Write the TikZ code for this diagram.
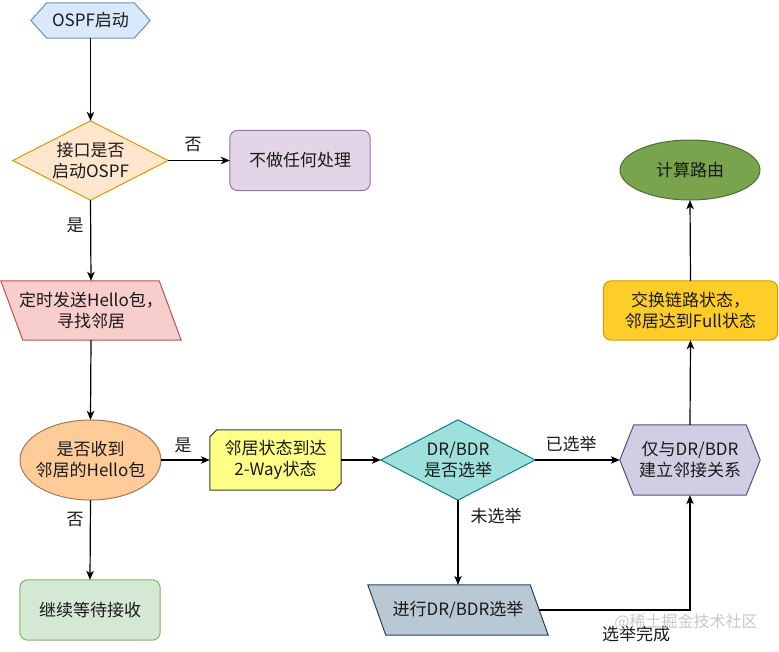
\documentclass[tikz,border=0pt]{standalone}
\usepackage{fontspec}
\newfontfamily\cjk{Noto Sans CJK SC}
\usetikzlibrary{arrows.meta,backgrounds,calc}
\definecolor{txt}{HTML}{1A1A1A}
\definecolor{startF}{HTML}{DAE8FC}\definecolor{startD}{HTML}{6C8EBF}
\definecolor{qF}{HTML}{FFE6CC}\definecolor{qD}{HTML}{D79B00}
\definecolor{noF}{HTML}{E1D5E7}\definecolor{noD}{HTML}{9673A6}
\definecolor{sendF}{HTML}{F8CECC}\definecolor{sendD}{HTML}{B85450}
\definecolor{recvF}{HTML}{FFCC99}\definecolor{recvD}{HTML}{A07A55}
\definecolor{wayF}{HTML}{FFFF88}\definecolor{wayD}{HTML}{36393D}
\definecolor{drF}{HTML}{9EE0DC}\definecolor{drD}{HTML}{0E8088}
\definecolor{adjF}{HTML}{D0CEE2}\definecolor{adjD}{HTML}{56517E}
\definecolor{elF}{HTML}{BAC8D3}\definecolor{elD}{HTML}{23445D}
\definecolor{fullF}{HTML}{FFCD28}\definecolor{fullD}{HTML}{D79B00}
\definecolor{routeF}{HTML}{7AA34E}\definecolor{routeD}{HTML}{4F6F2F}
\definecolor{waitF}{HTML}{D5E8D4}\definecolor{waitD}{HTML}{82B366}
\begin{document}
\begin{tikzpicture}[x=1pt,y=-1pt,
  every node/.style={font=\cjk\fontsize{17}{21}\selectfont, text=txt},
  shp/.style 2 args={minimum width=#1, minimum height=#2, inner sep=0pt, align=center},
  outl/.style={line width=1pt},
  arr/.style={line width=1.2pt, -{Stealth[length=9pt,width=7.5pt,inset=2.5pt]}},
  lbl/.style={inner sep=0pt}]
\useasboundingbox (0,0) rectangle (779,651);

% nodes
\node[shp={119pt}{35pt}] (start) at (90.5,20.5) {OSPF启动};
\node[shp={155pt}{79pt}] (q1) at (90.5,160.5) {接口是否\\启动OSPF};
\node[shp={140pt}{60pt}] (no1) at (300,160.5) {不做任何处理};
\node[shp={180pt}{59pt}] (send) at (91,310.5) {定时发送Hello包，\\寻找邻居};
\node[shp={141pt}{80pt}] (recv) at (90.5,460) {是否收到\\邻居的Hello包};
\node[shp={131pt}{60pt}] (way) at (275.5,460) {邻居状态到达\\2-Way状态};
\node[shp={154pt}{80pt}] (dr) at (458,460) {DR/BDR\\是否选举};
\node[shp={140pt}{70pt}] (adj) at (690,460) {仅与DR/BDR\\建立邻接关系};
\node[shp={180pt}{50pt}] (elect) at (458,610) {进行DR/BDR选举};
\node[shp={174pt}{59pt}] (full) at (690.5,310.5) {交换链路状态，\\邻居达到Full状态};
\node[shp={140pt}{60pt}] (route) at (690,170) {计算路由};
\node[shp={140pt}{60pt}] (wait) at (90,610) {继续等待接收};

% outlines
\begin{scope}[on background layer]
\draw[outl, draw=startD, fill=startF] (start.west) -- ([xshift=16pt]start.north west) -- ([xshift=-16pt]start.north east) -- (start.east) -- ([xshift=-16pt]start.south east) -- ([xshift=16pt]start.south west) -- cycle;
\draw[outl, draw=qD, fill=qF] (q1.north) -- (q1.east) -- (q1.south) -- (q1.west) -- cycle;
\draw[outl, draw=noD, fill=noF, rounded corners=8pt] (no1.north west) rectangle (no1.south east);
\draw[outl, draw=sendD, fill=sendF] (send.north west) -- ([xshift=-22pt]send.north east) -- (send.south east) -- ([xshift=22pt]send.south west) -- cycle;
\draw[outl, draw=recvD, fill=recvF] (recv.center) ellipse [x radius=70.5pt, y radius=40pt];
\draw[outl, draw=wayD, fill=wayF] ([xshift=7pt]way.north west) -- (way.north east) -- ([yshift=7pt]way.south east) -- ([xshift=-7pt]way.south east) -- (way.south west) -- ([yshift=-7pt]way.north west) -- cycle;
\draw[outl, draw=drD, fill=drF] (dr.north) -- (dr.east) -- (dr.south) -- (dr.west) -- cycle;
\draw[outl, draw=adjD, fill=adjF] (adj.west) -- ([xshift=14pt]adj.north west) -- ([xshift=-14pt]adj.north east) -- (adj.east) -- ([xshift=-14pt]adj.south east) -- ([xshift=14pt]adj.south west) -- cycle;
\draw[outl, draw=elD, fill=elF] (elect.north west) -- ([xshift=-18pt]elect.north east) -- (elect.south east) -- ([xshift=18pt]elect.south west) -- cycle;
\draw[outl, draw=fullD, fill=fullF, rounded corners=8pt] (full.north west) rectangle (full.south east);
\draw[outl, draw=routeD, fill=routeF] (route.center) ellipse [x radius=70pt, y radius=30pt];
\draw[outl, draw=waitD, fill=waitF, rounded corners=8pt] (wait.north west) rectangle (wait.south east);
\end{scope}

% corner of the last connector
\coordinate (elout) at ([xshift=-9pt]elect.east);
\coordinate (bend) at (adj.south |- elect.east);

% connectors
\draw[arr] (start.south) -- (q1.north);
\draw[arr] (q1.east) -- (no1.west);
\draw[arr] (q1.south) -- (send.north);
\draw[arr] (send.south) -- (recv.north);
\draw[arr] (recv.east) -- (way.west);
\draw[arr] (recv.south) -- (wait.north);
\draw[arr] (way.east) -- (dr.west);
\draw[arr] (dr.east) -- (adj.west);
\draw[arr] (dr.south) -- (elect.north);
\draw[arr] (elout) -- (bend) -- (adj.south);
\draw[arr] (adj.north) -- (full.south);
\draw[arr] (full.north) -- (route.south);

% labels
\node[lbl] (l1) at (193,145) {否};
\node[lbl] (l2) at (75,225) {是};
\node[lbl] (l3) at (183,445) {是};
\node[lbl] (l4) at (75,520) {否};
\node[lbl] (l5) at (571,444) {已选举};
\node[lbl] (l6) at (496,516) {未选举};
\node[lbl] (l7) at (636,634) {选举完成};
\node[lbl, text=black!22, font=\cjk\fontsize{16}{18}\selectfont] (wm) at (686,622) {@稀土掘金技术社区};
\end{tikzpicture}
\end{document}
